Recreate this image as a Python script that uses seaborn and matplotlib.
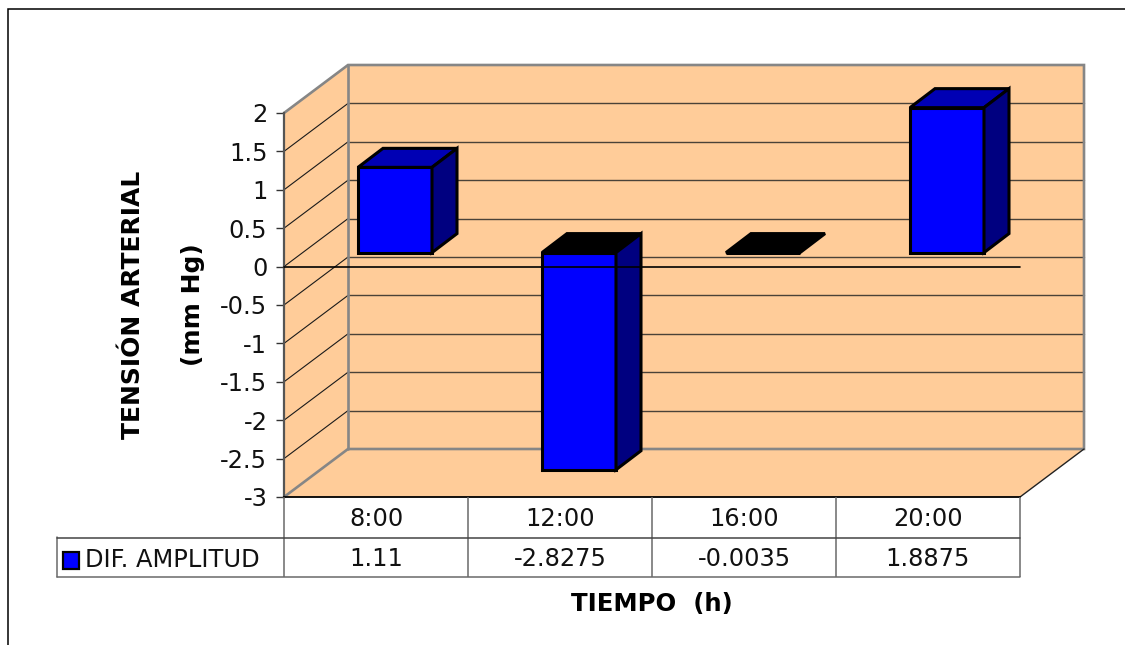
import matplotlib
matplotlib.use("Agg")
import matplotlib.pyplot as plt
import pandas as pd
import seaborn as sns

# Blood pressure amplitude difference by time of day
horas = ["8:00", "12:00", "16:00", "20:00"]
dif_amplitud = [1.11, -2.8275, -0.0035, 1.8875]
etiquetas_dif = ["1.11", "-2.8275", "-0.0035", "1.8875"]
y_ticks = [2, 1.5, 1, 0.5, 0, -0.5, -1, -1.5, -2, -2.5, -3]
y_tick_labels = ["2", "1.5", "1", "0.5", "0", "-0.5", "-1", "-1.5", "-2", "-2.5", "-3"]

W, H = 1125, 645
PARED = "#FFCC99"
AZUL, AZUL_TAPA, AZUL_LADO = "#0000FF", "#0000B4", "#000080"
GRIS = "#868686"
FS = 17.4

sns.set_theme(style="white")
plt.rcParams["font.family"] = ["DejaVu Sans"]

fig = plt.figure(figsize=(W / 100, H / 100), dpi=100, facecolor="white")

# Pixel-space overlay for the frame, data table and axis titles
capa = fig.add_axes([0, 0, 1, 1], zorder=5)
capa.set_xlim(0, W)
capa.set_ylim(H, 0)
capa.axis("off")

# Value axes: the front plane of the 3D box
L, R, T, B = 284, 1020, 113, 497
ax = fig.add_axes([L / W, 1 - B / H, (R - L) / W, (B - T) / H], zorder=2)
ax.patch.set_alpha(0)

df = pd.DataFrame({"hora": horas, "dif": dif_amplitud})
sns.barplot(data=df, x="hora", y="dif", color=AZUL, saturation=1, width=74 / 184,
            edgecolor="black", linewidth=2.2, ax=ax, zorder=4)
ax.set_xlim(-0.5, 3.5)
ax.set_ylim(-3, 2)
ax.set_xlabel("")
ax.set_ylabel("")

px_x = (R - L) / 4
px_y = (B - T) / 5
prof_x, prof_y = 64 / px_x, 48 / px_y        # full depth of the box
barra_dx, barra_dy = 19 / px_x, 14 / px_y    # where the bars stand inside it
lado_x, lado_y = 25 / px_x, 19 / px_y        # depth of each bar
x0, x1 = -0.5, 3.5

# Floor, side wall, back wall
ax.fill([x0, x1, x1 + prof_x, x0 + prof_x], [-3, -3, -3 + prof_y, -3 + prof_y],
        color=PARED, lw=0, zorder=1, clip_on=False)
ax.fill([x0, x0 + prof_x, x0 + prof_x, x0], [-3, -3 + prof_y, 2 + prof_y, 2],
        color=PARED, lw=0, zorder=1, clip_on=False)
ax.fill([x0 + prof_x, x1 + prof_x, x1 + prof_x, x0 + prof_x],
        [-3 + prof_y, -3 + prof_y, 2 + prof_y, 2 + prof_y],
        color=PARED, lw=0, zorder=1, clip_on=False)

# Gridlines running along the side and back walls
for v in y_ticks:
    if v in (2, -3):
        continue
    ax.plot([x0, x0 + prof_x], [v, v + prof_y], color="#1a1a1a", lw=0.8, zorder=2, clip_on=False)
    ax.plot([x0 + prof_x, x1 + prof_x], [v + prof_y, v + prof_y], color="#4a4238", lw=1.0,
            zorder=2, clip_on=False)

# Box outline
ax.plot([x0, x0 + prof_x, x1 + prof_x, x1 + prof_x, x0 + prof_x, x0],
        [2, 2 + prof_y, 2 + prof_y, -3 + prof_y, -3 + prof_y, -3],
        color=GRIS, lw=1.9, zorder=3, clip_on=False, solid_joinstyle="miter")
ax.plot([x0 + prof_x, x0 + prof_x], [2 + prof_y, -3 + prof_y], color=GRIS, lw=1.9, zorder=3,
        clip_on=False)
ax.plot([x1, x1 + prof_x], [-3, -3 + prof_y], color="#222222", lw=1, zorder=3, clip_on=False)

# Turn the flat bars into prisms: top face and right face
for barra, valor in zip(ax.patches[:len(dif_amplitud)], dif_amplitud):
    barra.set_x(barra.get_x() + barra_dx)
    barra.set_y(barra.get_y() + barra_dy)
    barra.set_clip_on(False)
    izq = barra.get_x()
    der = izq + barra.get_width()
    base = barra_dy
    cima = base + max(valor, 0)
    bajo = base + min(valor, 0)
    tapa = AZUL_TAPA if valor > 0 else "black"
    ax.fill([izq, der, der + lado_x, izq + lado_x],
            [cima, cima, cima + lado_y, cima + lado_y],
            facecolor=tapa, edgecolor="black", lw=2.2, zorder=4, clip_on=False)
    if abs(valor) > 0.01:
        ax.fill([der, der + lado_x, der + lado_x, der],
                [bajo, bajo + lado_y, cima + lado_y, cima],
                facecolor=AZUL_LADO, edgecolor="black", lw=2.2, zorder=4, clip_on=False)

# Zero line crosses in front of the bars
ax.axhline(0, color="black", lw=1.2, zorder=6, clip_on=False)

# Axes, ticks
sns.despine(ax=ax, top=True, right=True, bottom=False, left=False)
ax.spines["left"].set_color("#555555")
ax.spines["left"].set_linewidth(1.6)
ax.spines["left"].set_zorder(3)
ax.spines["bottom"].set_color("black")
ax.spines["bottom"].set_linewidth(1.3)
ax.spines["bottom"].set_zorder(3)
ax.set_yticks(y_ticks)
ax.set_yticklabels(y_tick_labels, fontsize=FS, color="#111111")
ax.tick_params(axis="y", left=True, length=6, width=1, color="#333333", pad=6)
ax.set_xticks(range(len(horas)))
ax.set_xticklabels(horas, fontsize=FS, color="#111111")
ax.tick_params(axis="x", bottom=False, length=0, pad=7)

# Data table under the chart
columnas = [284, 468, 652, 836, 1020]
for cx in columnas:
    capa.plot([cx, cx], [497, 577], color="#6a6a6a", lw=1.1, solid_capstyle="butt")
capa.plot([57, 57], [537, 577], color="#6a6a6a", lw=1.1)
capa.plot([57, 1020], [537.5, 537.5], color="#444444", lw=1.1)
capa.plot([57, 1020], [577, 577], color="#6a6a6a", lw=1.1)
for c0, c1, texto in zip(columnas[:-1], columnas[1:], etiquetas_dif):
    capa.text((c0 + c1) / 2, 559, texto, ha="center", va="center", fontsize=FS, color="#111111")
capa.fill([62.5, 78.5, 78.5, 62.5], [552, 552, 568.5, 568.5], facecolor=AZUL, edgecolor="black", lw=1.6)
capa.text(85, 560, "DIF. AMPLITUD", ha="left", va="center", fontsize=FS, color="#111111")

# Axis titles
capa.text(652, 604, "TIEMPO  (h)", ha="center", va="center", fontsize=17.6, fontweight="bold", color="black")
capa.text(133, 305, "TENSIÓN ARTERIAL", rotation=90, ha="center", va="center", fontsize=18,
          fontweight="bold", color="black")
capa.text(193, 305, "(mm Hg)", rotation=90, ha="center", va="center", fontsize=18,
          fontweight="bold", color="black")

# Outer chart frame, open on the right and at the bottom
capa.plot([7.5, 7.5, W], [H, 9, 9], color="black", lw=1.1, clip_on=False, solid_joinstyle="miter")

fig.savefig("out.png", dpi=100, facecolor="white")
